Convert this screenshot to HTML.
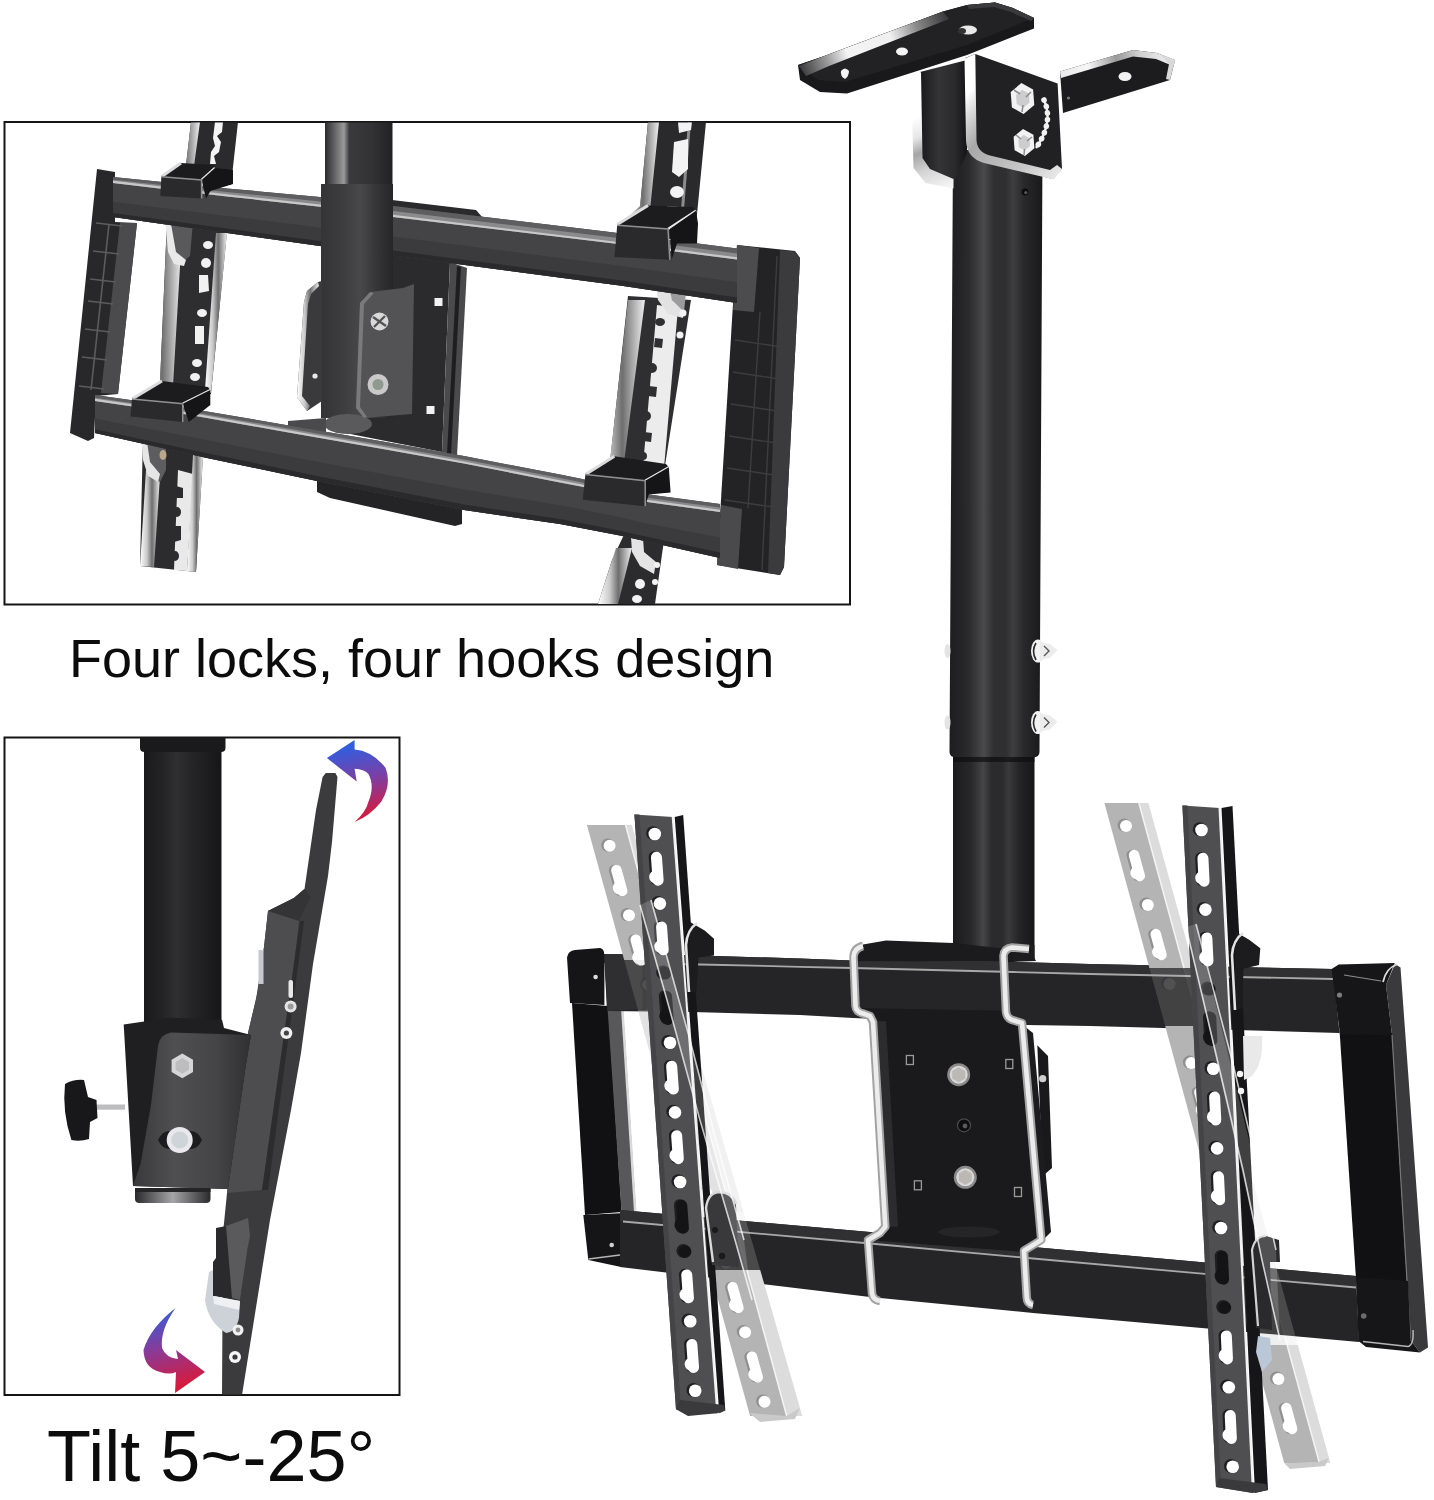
<!DOCTYPE html>
<html lang="en">
<head>
<meta charset="utf-8">
<title>TV ceiling mount</title>
<style>
html,body{margin:0;padding:0;background:#fff;}
body{width:1434px;height:1500px;overflow:hidden;position:relative;font-family:"Liberation Sans",sans-serif;}
svg{position:absolute;left:0;top:0;display:block;}
.t{font-family:"Liberation Sans",sans-serif;fill:#0c0c0c;}
</style>
</head>
<body>
<svg width="1434" height="1500" viewBox="0 0 1434 1500">
<defs>
<linearGradient id="pole" x1="0" x2="1" y1="0" y2="0">
<stop offset="0" stop-color="#232325"/><stop offset="0.28" stop-color="#2c2c2e"/><stop offset="0.42" stop-color="#414143"/><stop offset="0.52" stop-color="#2b2b2d"/><stop offset="0.68" stop-color="#37373a"/><stop offset="0.8" stop-color="#262628"/><stop offset="1" stop-color="#1b1b1d"/>
</linearGradient>
<linearGradient id="pole2" x1="0" x2="1" y1="0" y2="0">
<stop offset="0" stop-color="#1d1d1f"/><stop offset="0.3" stop-color="#262628"/><stop offset="0.45" stop-color="#3a3a3c"/><stop offset="0.55" stop-color="#262628"/><stop offset="0.7" stop-color="#333336"/><stop offset="1" stop-color="#161618"/>
</linearGradient>
<linearGradient id="silverV" x1="0" x2="0" y1="0" y2="1">
<stop offset="0" stop-color="#f4f4f4"/><stop offset="0.5" stop-color="#9a9a9a"/><stop offset="1" stop-color="#e8e8e8"/>
</linearGradient>
<linearGradient id="arrA" x1="0" x2="0" y1="0" y2="1">
<stop offset="0" stop-color="#3457d8"/><stop offset="0.5" stop-color="#7a3a9a"/><stop offset="1" stop-color="#e0183c"/>
</linearGradient>
</defs>

<!-- ============ PANEL 1 : four locks four hooks ============ -->
<g id="panel1">
<defs>
<clipPath id="c1"><rect x="5" y="122.5" width="844.5" height="481.5"/></clipPath>
<linearGradient id="p1barT" gradientUnits="userSpaceOnUse" x1="400" y1="210" x2="394" y2="258">
<stop offset="0" stop-color="#868688"/><stop offset="0.12" stop-color="#737375"/><stop offset="0.15" stop-color="#48484a"/><stop offset="0.5" stop-color="#424244"/><stop offset="0.62" stop-color="#38383a"/><stop offset="0.93" stop-color="#323234"/><stop offset="1" stop-color="#252527"/>
</linearGradient>
<linearGradient id="p1barB" gradientUnits="userSpaceOnUse" x1="400" y1="442" x2="390" y2="497">
<stop offset="0" stop-color="#868688"/><stop offset="0.12" stop-color="#737375"/><stop offset="0.15" stop-color="#48484a"/><stop offset="0.5" stop-color="#424244"/><stop offset="0.62" stop-color="#38383a"/><stop offset="0.93" stop-color="#323234"/><stop offset="1" stop-color="#252527"/>
</linearGradient>
<linearGradient id="p1sil" x1="0" x2="1" y1="0" y2="0">
<stop offset="0" stop-color="#ffffff"/><stop offset="0.35" stop-color="#c9c9c9"/><stop offset="0.6" stop-color="#6e6e6e"/><stop offset="1" stop-color="#efefef"/>
</linearGradient>
<linearGradient id="p1pole" x1="0" x2="1" y1="0" y2="0">
<stop offset="0" stop-color="#343436"/><stop offset="0.3" stop-color="#3d3d3f"/><stop offset="0.55" stop-color="#48484a"/><stop offset="0.8" stop-color="#333335"/><stop offset="1" stop-color="#262628"/>
</linearGradient>
<linearGradient id="p1poleU" x1="0" x2="1" y1="0" y2="0">
<stop offset="0" stop-color="#2a2a2c"/><stop offset="0.12" stop-color="#5a5a5c"/><stop offset="0.28" stop-color="#9a9a9a"/><stop offset="0.36" stop-color="#3a3a3c"/><stop offset="0.7" stop-color="#323234"/><stop offset="1" stop-color="#222224"/>
</linearGradient>
</defs>
<rect x="4.5" y="122" width="845.5" height="482.5" fill="#fff" stroke="#151515" stroke-width="2"/>
<g clip-path="url(#c1)">
<!-- back plate -->
<polygon points="392,200 476,210 483,218 483,226 392,214" fill="#2a2a2c"/>
<polygon points="340,240 450,262 442,452 340,432" fill="#2b2b2d"/>
<polygon points="450,262 467,268 457,456 442,452" fill="#4a4a4c"/>
<polygon points="457,266 461,267 451,455 447,454" fill="#1e1e20"/>
<rect x="434.5" y="298" width="8" height="8" fill="#f2f2f2"/>
<rect x="426.5" y="406" width="8" height="8" fill="#f2f2f2"/>
<!-- rear block under bottom bar -->
<polygon points="317,478 462,508 462,524 455,526 330,498 317,492" fill="#242426"/>

<!-- LEFT RAIL upper -->
<polygon points="191,122 238,122 231,185 163,178 186,166" fill="#2b2b2d"/>
<polygon points="191,122 200,122 194,166 172,178 163,176 186,164" fill="url(#p1sil)"/>
<path d="M215,122 l8,0 l-1,10 l-5,4 l4,6 l-2,10 l-5,4 l2,8 l-6,0 l1,-12 l4,-6 l-2,-8 z" fill="#f4f4f4"/>
<!-- LEFT RAIL middle -->
<polygon points="167,220 227,232 211,394 133,400 160,383" fill="#2e2e30"/>
<polygon points="167,222 182,232 173,386 140,400 132,399 160,382" fill="url(#p1sil)"/>
<polygon points="216,233 227,233 211,393 205,390" fill="url(#p1sil)"/>
<polygon points="165,218 193,222 190,256 183,262 176,262 172,252" fill="#59595b"/>
<polygon points="165,218 170,218 176,252 186,260 184,266 174,264 168,252" fill="#e9e9e9"/>
<g fill="#f1f1f1">
<ellipse cx="208" cy="245" rx="5" ry="4"/><ellipse cx="206" cy="263" rx="5" ry="5"/><path d="M199,275 l9,0 l1,16 l-10,2 z"/>
<ellipse cx="202" cy="313" rx="5" ry="4"/><path d="M195,326 l9,0 l0,18 l-9,0 z"/><ellipse cx="197" cy="363" rx="5" ry="4"/><ellipse cx="195" cy="377" rx="5" ry="4"/>
</g>
<!-- LEFT RAIL lower -->
<polygon points="143,436 203,456 196,572 140,566" fill="#2c2c2e"/>
<polygon points="146,470 160,476 154,567 140,566" fill="url(#p1sil)"/>
<polygon points="178,470 193,474 187,571 174,570" fill="#e9e9e9"/>
<polygon points="193,455 203,456 196,572 187,571" fill="url(#p1sil)"/>
<polygon points="141,434 166,440 166,470 160,482 150,478 144,462" fill="#5d5d60"/>
<polygon points="141,434 146,435 150,462 160,474 158,482 148,476 143,460" fill="#e6e6e6"/>
<g fill="#f1f1f1">
<ellipse cx="163" cy="455" rx="3.5" ry="5" fill="#b9a98a"/>
</g><g fill="#2c2c2e"><path d="M176,486 l7,2 l0,10 l-7,0 z"/><ellipse cx="177" cy="512" rx="4" ry="5"/><path d="M174,526 l7,0 l0,14 l-7,2 z"/><ellipse cx="175" cy="556" rx="4" ry="5"/>
</g>

<!-- RIGHT RAIL upper -->
<polygon points="648,122 706,122 694,245 618,226 640,208" fill="#2a2a2c"/>
<polygon points="648,122 659,122 650,210 628,228 618,226 640,206" fill="url(#p1sil)"/>
<polygon points="688,122 691,122 683,222 680,222" fill="#8c8c8e"/>
<g fill="#f3f3f3">
<path d="M678,122 l14,0 l-1,8 l-12,3 z"/><path d="M674,142 l14,-3 l0,30 l-9,8 l-7,-5 z"/><ellipse cx="677" cy="192" rx="7" ry="6"/><path d="M667,206 l13,1 l-1,14 l-13,-1 z"/>
</g>
<!-- RIGHT RAIL middle -->
<polygon points="628,296 691,300 664,472 588,474 610,462" fill="#2f2f31"/>
<polygon points="628,300 645,300 624,462 596,476 588,474 610,460" fill="url(#p1sil)"/>
<polygon points="657,305 678,308 664,468 643,466" fill="#ececec"/>
<g fill="#2f2f31"><ellipse cx="660" cy="322" rx="5" ry="4"/><path d="M655,338 l8,1 l-1,9 l-8,-1 z"/><ellipse cx="652" cy="368" rx="5" ry="5"/><path d="M649,386 l8,1 l-1,10 l-8,-1 z"/><ellipse cx="646" cy="416" rx="5" ry="5"/><path d="M644,432 l8,1 l-1,9 l-8,-1 z"/><ellipse cx="643" cy="456" rx="4" ry="4"/></g>
<polygon points="655,282 668,282 672,300 684,306 683,318 668,314 658,300" fill="#e2e2e2"/>
<polygon points="668,284 686,292 684,312 672,300" fill="#9b9b9d"/>
<g fill="#f3f3f3">
<circle cx="683" cy="313" r="3.5"/><circle cx="680" cy="335" r="3.5"/>

</g>
<!-- RIGHT RAIL lower -->
<polygon points="631,520 664,540 655,604 598,604 612,560" fill="#2c2c2e"/>
<polygon points="616,548 632,548 618,604 598,604" fill="url(#p1sil)"/>
<polygon points="630,522 642,524 644,552 656,562 654,574 640,566 632,552" fill="#e4e4e4"/>
<g fill="#f3f3f3"><circle cx="657" cy="565" r="3"/><circle cx="655" cy="582" r="3"/><ellipse cx="640" cy="584" rx="5" ry="5"/><ellipse cx="637" cy="599" rx="5" ry="4"/></g>

<!-- LEFT SIDE PLATE -->
<polygon points="97,169 115,172 115,222 137,223 118,394 96,396 94,438 88,441 70,433" fill="#28282a"/>
<polygon points="120,223 137,223 118,394 101,393" fill="#4b4b4d"/>
<g stroke="#5c5c5e" stroke-width="1.6" fill="none">
<path d="M96,223 L122,226"/><path d="M93,251 L119,254"/><path d="M90,279 L116,282"/><path d="M88,301 L113,304"/><path d="M85,329 L110,332"/><path d="M82,357 L107,360"/><path d="M79,386 L104,389"/>
<path d="M109,224 L91,390"/>
</g>
<!-- RIGHT SIDE PLATE -->
<polygon points="737,245 795,251 800,258 784,567 780,575 717,565 733,304" fill="#232325"/>
<polygon points="780,250 795,251.5 800,258 784,567 780,575 768,573" fill="#3b3b3d"/>
<polygon points="737,245 759,248 754,312 733,310" fill="#4c4c4e"/>
<polygon points="721,505 742,509 738,569 717,565" fill="#4a4a4c"/>
<g stroke="#3d3d40" stroke-width="1.4" fill="none">
<path d="M735,340 L788,348"/><path d="M733,372 L786,380"/><path d="M731,404 L784,412"/><path d="M729,436 L783,444"/><path d="M727,468 L781,476"/><path d="M725,500 L780,508"/>
<path d="M760,312 L748,508"/><path d="M777,256 L762,570"/>
</g>

<!-- TOP BAR -->
<polygon points="113.0,177.0 212.0,187.0 227.0,188.4 320.0,197.0 393.0,206.0 614.0,232.6 620.0,233.4 737.0,248.5 737.0,303.0 620.0,285.5 614.0,284.7 393.0,255.4 320.0,246.0 227.0,233.0 212.0,230.9 113.0,217.0" fill="#444446"/>
<polygon points="113.0,177.0 212.0,187.0 227.0,188.4 320.0,197.0 393.0,206.0 614.0,232.6 620.0,233.4 737.0,248.5 737.0,259.5 620.0,244.4 614.0,243.6 393.0,217.0 320.0,206.7 227.0,196.4 212.0,194.8 113.0,183.0" fill="#5e5e60"/>
<polygon points="113.0,179.7 212.0,190.5 227.0,192.0 320.0,201.4 393.0,210.9 614.0,237.5 620.0,238.3 737.0,253.4 737.0,259.5 620.0,244.4 614.0,243.6 393.0,217.0 320.0,206.7 227.0,196.4 212.0,194.8 113.0,183.0" fill="#8a8a8c"/>
<polygon points="113.0,180.8 212.0,192.6 227.0,194.2 320.0,204.5 393.0,214.8 614.0,241.4 620.0,242.2 737.0,257.3 737.0,259.5 620.0,244.4 614.0,243.6 393.0,217.0 320.0,206.7 227.0,196.4 212.0,194.8 113.0,183.0" fill="#c8c8c8"/>
<polygon points="113.0,201.8 212.0,214.2 227.0,216.0 320.0,227.4 393.0,236.6 614.0,264.9 620.0,265.7 737.0,282.3 737.0,303.0 620.0,285.5 614.0,284.7 393.0,255.4 320.0,246.0 227.0,233.0 212.0,230.9 113.0,217.0" fill="#3b3b3d"/>
<polygon points="113.0,213.0 212.0,226.5 227.0,228.5 320.0,241.1 393.0,250.5 614.0,279.5 620.0,280.3 737.0,297.6 737.0,303.0 620.0,285.5 614.0,284.7 393.0,255.4 320.0,246.0 227.0,233.0 212.0,230.9 113.0,217.0" fill="#2a2a2c"/>
<!-- POLE -->
<rect x="325" y="122" width="67.5" height="62" fill="url(#p1poleU)"/>
<polygon points="321,184 393,184 393,418 321,418" fill="url(#p1pole)"/>
<ellipse cx="348" cy="424" rx="24" ry="10" fill="#5a5a5c"/>
<polygon points="288,421 326,418 326,436 288,432" fill="#4a4a4c"/>
<!-- left ear -->
<polygon points="307,291 318,282 322,281 322,401 307,411 297,397 304,302" fill="#3a3a3c"/>
<polygon points="307,291 318,282 319,286 311,294 308,304 302,396 310,406 307,411 297,397 304,302" fill="url(#p1sil)"/>
<circle cx="315" cy="376" r="2.6" fill="#e8e8e8"/>
<!-- front bracket -->
<polygon points="360,303 370,292 403,288 414,284 412,414 364,418 356,408" fill="#535355"/>
<polygon points="360,303 370,292 374,293 364,304 360,407 367,417 364,418 356,408" fill="#7a7a7c"/>
<circle cx="379.5" cy="321.5" r="9" fill="#d9d9d9"/><path d="M373,317 l13,9 M385,316 l-11,11" stroke="#555" stroke-width="2.4"/>
<circle cx="378" cy="384.5" r="10.5" fill="#c9c9c9"/><circle cx="378" cy="384.5" r="5.5" fill="#8e9a8e"/>

<!-- BOTTOM BAR -->
<polygon points="95.0,395.0 187.0,408.0 207.0,411.4 280.0,424.0 317.0,430.3 380.0,441.0 464.0,456.0 560.0,474.6 581.0,478.7 620.0,487.7 649.0,494.4 720.0,504.0 720.0,558.0 649.0,542.0 620.0,535.5 581.0,528.0 560.0,524.0 464.0,510.0 380.0,493.4 317.0,481.0 280.0,473.3 207.0,458.0 187.0,453.5 95.0,433.0" fill="#444446"/>
<polygon points="95.0,395.0 187.0,408.0 207.0,411.4 280.0,424.0 317.0,430.3 380.0,441.0 464.0,456.0 560.0,474.6 581.0,478.7 620.0,487.7 649.0,494.4 720.0,504.0 720.0,512.0 649.0,502.3 620.0,495.6 581.0,486.5 560.0,482.4 464.0,463.6 380.0,448.5 317.0,437.5 280.0,431.0 207.0,418.0 187.0,414.5 95.0,401.0" fill="#5e5e60"/>
<polygon points="95.0,397.7 187.0,410.9 207.0,414.4 280.0,427.1 317.0,433.5 380.0,444.4 464.0,459.4 560.0,478.1 581.0,482.2 620.0,491.2 649.0,498.0 720.0,507.6 720.0,512.0 649.0,502.3 620.0,495.6 581.0,486.5 560.0,482.4 464.0,463.6 380.0,448.5 317.0,437.5 280.0,431.0 207.0,418.0 187.0,414.5 95.0,401.0" fill="#8a8a8c"/>
<polygon points="95.0,398.8 187.0,412.3 207.0,415.8 280.0,428.8 317.0,435.3 380.0,446.3 464.0,461.4 560.0,480.2 581.0,484.3 620.0,493.4 649.0,500.1 720.0,509.8 720.0,512.0 649.0,502.3 620.0,495.6 581.0,486.5 560.0,482.4 464.0,463.6 380.0,448.5 317.0,437.5 280.0,431.0 207.0,418.0 187.0,414.5 95.0,401.0" fill="#c8c8c8"/>
<polygon points="95.0,418.6 187.0,436.2 207.0,440.3 280.0,454.5 317.0,461.7 380.0,473.5 464.0,489.5 560.0,505.2 581.0,509.3 620.0,517.3 649.0,523.9 720.0,537.5 720.0,558.0 649.0,542.0 620.0,535.5 581.0,528.0 560.0,524.0 464.0,510.0 380.0,493.4 317.0,481.0 280.0,473.3 207.0,458.0 187.0,453.5 95.0,433.0" fill="#3b3b3d"/>
<polygon points="95.0,429.2 187.0,449.0 207.0,453.3 280.0,468.3 317.0,475.9 380.0,488.2 464.0,504.6 560.0,519.1 581.0,523.1 620.0,530.7 649.0,537.3 720.0,552.6 720.0,558.0 649.0,542.0 620.0,535.5 581.0,528.0 560.0,524.0 464.0,510.0 380.0,493.4 317.0,481.0 280.0,473.3 207.0,458.0 187.0,453.5 95.0,433.0" fill="#2a2a2c"/>

<!-- CLIPS -->
<polygon points="161.4,176.8 181.0,163.0 214.0,165.0 215.0,168.0 201.6,180.0" fill="#1c1c1e"/>
<polyline points="161.4,176.8 181.0,163.0" fill="none" stroke="#dcdcdc" stroke-width="3"/>
<polyline points="201.6,180.0 215.0,168.0" fill="none" stroke="#e8e8e8" stroke-width="2.4"/>
<polygon points="201.6,180.0 215.0,168.0 233.0,170.0 233.0,184.0 210.5,191.0 206.0,198.5" fill="#151517"/>
<polygon points="161.4,176.8 201.6,180.0 201.6,198.5 160.3,196.0" fill="#2a2a2c"/>
<polyline points="161.4,176.8 201.6,180.0 201.6,198.5" fill="none" stroke="#909092" stroke-width="1.5"/>
<polygon points="132.0,399.0 162.0,381.0 208.0,387.0 210.3,390.0 182.7,403.7" fill="#1c1c1e"/>
<polyline points="132.0,399.0 162.0,381.0" fill="none" stroke="#dcdcdc" stroke-width="3"/>
<polyline points="182.7,403.7 210.3,390.0" fill="none" stroke="#e8e8e8" stroke-width="2.4"/>
<polygon points="182.7,403.7 210.3,390.0 210.3,405.0 188.8,422.0" fill="#151517"/>
<polygon points="132.0,399.0 182.7,403.7 182.7,422.0 130.5,416.5" fill="#2a2a2c"/>
<polyline points="132.0,399.0 182.7,403.7 182.7,422.0" fill="none" stroke="#909092" stroke-width="1.5"/>
<polygon points="617.2,225.3 648.0,205.4 693.0,207.0 696.0,210.8 668.0,229.0" fill="#1c1c1e"/>
<polyline points="617.2,224.5 648.0,205.4" fill="none" stroke="#dcdcdc" stroke-width="3"/>
<polyline points="668.0,229.0 696.0,210.8" fill="none" stroke="#e8e8e8" stroke-width="2.4"/>
<polygon points="669.8,229.0 696.0,210.8 698.0,223.5 697.0,243.5 677.0,243.5 671.6,259.8" fill="#151517"/>
<polygon points="617.2,225.3 668.0,229.0 669.8,259.8 614.5,257.0" fill="#2a2a2c"/>
<polyline points="617.2,225.3 668.0,229.0 669.8,259.8" fill="none" stroke="#909092" stroke-width="1.5"/>
<polygon points="585.4,474.5 614.4,456.3 666.0,464.0 668.8,467.2 645.2,480.8" fill="#1c1c1e"/>
<polyline points="585.4,474.5 614.4,456.3" fill="none" stroke="#dcdcdc" stroke-width="3"/>
<polyline points="645.2,480.8 668.8,467.2" fill="none" stroke="#e8e8e8" stroke-width="2.4"/>
<polygon points="645.2,480.8 668.8,467.2 670.6,492.6 648.8,494.4 645.2,506.2" fill="#151517"/>
<polygon points="585.4,474.5 645.2,480.8 645.2,506.2 582.7,499.8" fill="#2a2a2c"/>
<polyline points="585.4,474.5 645.2,480.8 645.2,506.2" fill="none" stroke="#909092" stroke-width="1.5"/>
</g>

</g>

<!-- ============ PANEL 2 : tilt ============ -->
<g id="panel2">
<defs>
<clipPath id="c2"><rect x="5" y="738" width="394" height="656.5"/></clipPath>
<linearGradient id="p2pole" x1="0" x2="1" y1="0" y2="0">
<stop offset="0" stop-color="#19191b"/><stop offset="0.25" stop-color="#242426"/><stop offset="0.42" stop-color="#2f2f31"/><stop offset="0.6" stop-color="#262628"/><stop offset="1" stop-color="#161618"/>
</linearGradient>
<linearGradient id="p2face" x1="0" x2="1" y1="0" y2="0">
<stop offset="0" stop-color="#39393b"/><stop offset="0.35" stop-color="#4f4f51"/><stop offset="0.7" stop-color="#454547"/><stop offset="1" stop-color="#303032"/>
</linearGradient>
<linearGradient id="p2col" x1="0" x2="1" y1="0" y2="0">
<stop offset="0" stop-color="#2a2a2c"/><stop offset="0.5" stop-color="#a5a5a7"/><stop offset="1" stop-color="#2a2a2c"/>
</linearGradient>
<linearGradient id="arrT" gradientUnits="userSpaceOnUse" x1="350" y1="745" x2="365" y2="822">
<stop offset="0" stop-color="#2f5fe0"/><stop offset="0.45" stop-color="#7a3fa6"/><stop offset="1" stop-color="#e3152f"/>
</linearGradient>
<linearGradient id="arrB" gradientUnits="userSpaceOnUse" x1="160" y1="1308" x2="185" y2="1392">
<stop offset="0" stop-color="#2f5fe0"/><stop offset="0.45" stop-color="#8a3a96"/><stop offset="1" stop-color="#e3152f"/>
</linearGradient>
</defs>
<rect x="4.5" y="737.5" width="395" height="657.5" fill="#fff" stroke="#151515" stroke-width="2"/>
<g clip-path="url(#c2)">
<!-- pole -->
<rect x="144" y="738" width="77.5" height="290" fill="url(#p2pole)"/>
<path d="M140,738 H225.5 V748 Q225.5,752 221,752 H144.5 Q140,752 140,748 Z" fill="#1a1a1c"/>
<!-- arm main plate -->
<polygon points="322.6,777 325.8,773 335.4,773 337.5,777 332,842 328,876 313,964 301,1053 291,1110 270,1220 242,1395 222,1395 223,1233 227,1193 248,1033 256,1000 264,947 268,911 294,898 304.5,889 316,810" fill="#3b3b3d"/>
<!-- left box section of arm -->
<polygon points="268,911 294,898 304.5,889 311,897 299,921 290,1000 262,1190 227,1193 248,1033 258,990 264,947" fill="#4d4d4f"/>
<polygon points="268,911 294,898 304.5,889 311,897 299,921" fill="#343436"/>
<polygon points="300,921 304,921 268,1190 262,1190" fill="#2c2c2e"/>
<rect x="258.5" y="950" width="5" height="34" fill="#c5c9cf"/>
<rect x="288.5" y="980" width="4.5" height="18" rx="2" fill="#e8e8e8"/>
<circle cx="290.6" cy="1006.5" r="6" fill="#e4e4e4"/><circle cx="290.6" cy="1006.5" r="3" fill="#9a9a9a"/>
<circle cx="286.4" cy="1033" r="6" fill="#f0f0f0"/><circle cx="286.4" cy="1033" r="2.6" fill="#444"/>
<!-- bracket dark back -->
<polygon points="123.7,1024.4 169.7,1017.7 222,1019.7 224,1028 251,1035 246,1064 228,1189 133,1186" fill="#1f1f21"/>
<!-- bracket grey face -->
<path d="M158,1046 Q160,1034 171,1032.5 L251,1035 L246,1064 L228,1189 L133,1186 L140.5,1164 L151,1105 Z" fill="url(#p2face)"/>
<!-- collar bottom -->
<path d="M135,1189 H210.5 V1199 Q210.5,1203 206,1203 H139.5 Q135,1203 135,1199 Z" fill="url(#p2col)"/>
<rect x="135" y="1188" width="75.5" height="4" fill="#252527"/>
<!-- hex bolt -->
<polygon points="182.3,1053.5 193,1059.7 193,1072 182.3,1078.2 171.6,1072 171.6,1059.7" fill="#d6d6d8"/>
<polygon points="182.3,1058 189,1062 189,1069.8 182.3,1073.8 175.6,1069.8 175.6,1062" fill="#bdbdc0"/>
<!-- round bolt -->
<path d="M158,1140 q4,-9 12,-9 h20 q8,0 12,9 q-4,9 -12,9 h-20 q-8,0 -12,-9 z" fill="#1c1c1e"/>
<circle cx="179.7" cy="1140" r="13" fill="#e9e9eb"/><circle cx="179.7" cy="1140" r="8.5" fill="#cfd4d8"/>
<!-- knob -->
<rect x="96" y="1104.5" width="29" height="5.2" fill="#bdbdbf"/>
<path d="M65,1084 Q74,1079 84,1080 L88,1097 L96.5,1100 L97.5,1118 L90,1122 L89,1139 Q80,1142 71.4,1140 Q62,1112 65,1084 Z" fill="#18181a"/>
<!-- lower hook on arm -->
<polygon points="216,1228 226,1226 248,1230 248,1246 240,1300 213,1296 213,1262 216,1258" fill="#2a2a2c"/>
<polygon points="226,1226 248,1218 250,1236 248,1246 240,1300 232,1298" fill="#5a5a5c"/>
<path d="M209,1272 L213,1270 L213,1296 L240,1301 L239,1318 Q236,1332 226,1333 Q208,1322 205,1300 Z" fill="#ccd2d8"/>
<path d="M213,1296 L240,1301 L239,1310 L214,1304 Z" fill="#eef0f2"/>
<circle cx="238" cy="1330" r="5.5" fill="#f2f2f2"/><circle cx="238" cy="1330" r="2.4" fill="#8d8d8d"/>
<circle cx="235" cy="1357" r="6" fill="#f6f6f6"/><circle cx="235" cy="1357" r="2.6" fill="#3a3a3a"/>
<!-- arrows -->
<path d="M326.9,758 L354.6,740 L354.6,749.6 Q372,751 385.5,767.7 Q392,784 381.2,801.8 Q370,816 354.6,822 Q366,812 368.4,801.8 Q375,786 368.4,774 Q364,769 354.6,768.8 L356.7,781.6 Z" fill="url(#arrT)"/>
<path d="M175.5,1308 Q150,1328 143.5,1350 Q144,1368 160,1372 Q170,1375 176,1372 L175,1393 L205,1372 L176,1350 L178,1359 Q166,1358 162,1348 Q160,1330 175.5,1308 Z" fill="url(#arrB)"/>
</g>

</g>

<!-- ============ MAIN PRODUCT ============ -->
<g id="main">
<defs>
<linearGradient id="mpoleO" gradientUnits="userSpaceOnUse" x1="951" y1="0" x2="1042" y2="0">
<stop offset="0" stop-color="#1e1e20"/><stop offset="0.2" stop-color="#2b2b2d"/><stop offset="0.36" stop-color="#4a4a4c"/><stop offset="0.47" stop-color="#2f2f31"/><stop offset="0.6" stop-color="#2f2f31"/><stop offset="0.68" stop-color="#3e3e40"/><stop offset="0.8" stop-color="#29292b"/><stop offset="1" stop-color="#19191b"/>
</linearGradient>
<linearGradient id="mpoleI" gradientUnits="userSpaceOnUse" x1="953" y1="0" x2="1035" y2="0">
<stop offset="0" stop-color="#1b1b1d"/><stop offset="0.22" stop-color="#28282a"/><stop offset="0.37" stop-color="#454547"/><stop offset="0.47" stop-color="#2b2b2d"/><stop offset="0.6" stop-color="#2b2b2d"/><stop offset="0.68" stop-color="#3a3a3c"/><stop offset="0.8" stop-color="#252527"/><stop offset="1" stop-color="#161618"/>
</linearGradient>
<linearGradient id="msilB" gradientUnits="userSpaceOnUse" x1="962" y1="100" x2="1060" y2="185"><stop offset="0" stop-color="#ffffff"/><stop offset="0.12" stop-color="#d8d8d8"/><stop offset="0.3" stop-color="#a8a8a8"/><stop offset="0.7" stop-color="#c9c9c9"/><stop offset="1" stop-color="#f0f0f0"/></linearGradient>
<linearGradient id="msilU" gradientUnits="userSpaceOnUse" x1="910" y1="120" x2="940" y2="190"><stop offset="0" stop-color="#ffffff"/><stop offset="0.25" stop-color="#e6e6e6"/><stop offset="0.45" stop-color="#a5a5a5"/><stop offset="0.7" stop-color="#d5d5d5"/><stop offset="1" stop-color="#f4f4f4"/></linearGradient>
<linearGradient id="msil" x1="0" x2="1" y1="0" y2="0">
<stop offset="0" stop-color="#fafafa"/><stop offset="0.5" stop-color="#b5b5b5"/><stop offset="1" stop-color="#e6e6e6"/>
</linearGradient>
<linearGradient id="mplateE" gradientUnits="userSpaceOnUse" x1="800" y1="68" x2="945" y2="14">
<stop offset="0" stop-color="#3a3a3c"/><stop offset="0.18" stop-color="#9a9a9a"/><stop offset="0.32" stop-color="#f4f4f4"/><stop offset="0.62" stop-color="#f0f0f0"/><stop offset="0.8" stop-color="#8a8a8a"/><stop offset="1" stop-color="#3a3a3c"/>
</linearGradient>
<linearGradient id="mplate" gradientUnits="userSpaceOnUse" x1="800" y1="70" x2="1030" y2="10">
<stop offset="0" stop-color="#252527"/><stop offset="0.1" stop-color="#1f1f21"/><stop offset="0.16" stop-color="#d8d8d8"/><stop offset="0.24" stop-color="#f2f2f2"/><stop offset="0.3" stop-color="#4a4a4c"/><stop offset="0.36" stop-color="#1e1e20"/><stop offset="1" stop-color="#1a1a1c"/>
</linearGradient>
<linearGradient id="mear" gradientUnits="userSpaceOnUse" x1="1060" y1="75" x2="1175" y2="55">
<stop offset="0" stop-color="#e8e8e8"/><stop offset="0.25" stop-color="#f6f6f6"/><stop offset="0.5" stop-color="#9a9a9a"/><stop offset="0.7" stop-color="#cfcfcf"/><stop offset="1" stop-color="#f4f4f4"/>
</linearGradient>
<linearGradient id="mU" gradientUnits="userSpaceOnUse" x1="920" y1="0" x2="967" y2="0">
<stop offset="0" stop-color="#19191b"/><stop offset="0.4" stop-color="#343436"/><stop offset="0.75" stop-color="#2a2a2c"/><stop offset="1" stop-color="#141416"/>
</linearGradient>
</defs>
<!-- ceiling plate -->
<polygon points="798,65 823,56.5 943,11.5 967,5 995,2.5 1013,8 1034,18 1034,28.5 967,55 847,93.5 820,92 800,80" fill="#19191b"/>
<polygon points="798,65 823,56.5 943,11.5 967,5 995,2.5 1013,8 1034,18 967,45 845,82 818,80" fill="#222224"/>
<polygon points="799,66 823,56.5 943,11.5 949,19 829,66 806,76" fill="url(#mplateE)"/>
<polygon points="967,5 995,2.5 1013,8 1034,18 1031,21 1011,12 994,7 969,9" fill="#3a3a3c"/>
<path d="M841,71 q4,-5 8,0 q0,5 -4,8 q-5,-3 -4,-8z" fill="#f4f4f4"/>
<ellipse cx="902" cy="51.5" rx="6" ry="4" fill="#f4f4f4"/>
<ellipse cx="968" cy="30" rx="9" ry="4.5" fill="#e9e9e9"/><ellipse cx="962" cy="31" rx="4" ry="3" fill="#333"/>
<!-- pole outer -->
<path d="M953,150 L1042.5,150 L1039.5,752 Q1039.5,757 1033,757.5 L956,757.5 Q949.5,757 949.5,752 Z" fill="url(#mpoleO)"/>
<circle cx="1025" cy="192" r="3.4" fill="#0c0c0c"/><circle cx="1025.8" cy="192.6" r="1.6" fill="#555"/>
<!-- U bracket left -->
<polygon points="920,72 967,60 967,153 953.5,183 928,173 920,160" fill="url(#mU)"/>
<path d="M911,76 L921,72 L922.5,158 L930,169 L953.5,179 L953.5,188.5 L925.5,183 L913.5,168 Z" fill="url(#msilU)"/>
<!-- ear plate -->
<polygon points="1060,71.5 1133,50 1157,53 1175,60 1170,80 1063,113" fill="#1c1c1e"/>
<polygon points="1060,71.5 1133,50 1157,53 1175,60 1173,66 1156,59 1133,56.5 1061,78" fill="url(#mear)"/>
<polygon points="1160,54 1175,60 1170,80 1166,79 1169,64" fill="#d9d9d9"/>
<ellipse cx="1125" cy="76.5" rx="6.5" ry="4.5" fill="#f2f2f2"/>
<circle cx="1068.5" cy="98" r="1.6" fill="#777"/>
<!-- front bracket face -->
<path d="M965,58 L975.3,54 L1057.6,83.5 L1062,168.5 L1053,179 L985,162 Q968,158 967,140 Z" fill="#212123"/>
<path d="M964.5,58.5 L975.3,54 L976.5,140 Q977,152 990,155.5 L1050,170 L1057,165 L1062,169 L1054,179.5 L984,163 Q966.5,158 966,140 Z" fill="url(#msilB)"/>
<polygon points="1034.3,105.1 1023.6,113.9 1011.9,107.4 1010.7,91.9 1021.4,83.1 1033.1,89.6" fill="#f2f2f2"/>
<polygon points="1029.6,102.6 1023.5,107.8 1016.7,104.0 1016.0,95.0 1022.1,89.8 1028.9,93.6" fill="#cdcdd0"/>
<path d="M1014,90 l6,4 M1031,92 l-5,5 M1022,112 l1,-7" stroke="#8d8d90" stroke-width="1.6" fill="none"/>
<polygon points="1034.4,148.2 1025.0,155.9 1014.6,150.2 1013.6,136.8 1023.0,129.1 1033.4,134.8" fill="#f2f2f2"/>
<polygon points="1030.1,146.1 1024.8,150.6 1018.9,147.3 1018.3,139.5 1023.6,135.0 1029.5,138.3" fill="#cdcdd0"/>
<path d="M1016,135 l5,4 M1032,137 l-5,4 M1024,155 l0.5,-6" stroke="#8d8d90" stroke-width="1.5" fill="none"/>
<path d="M1044,100 Q1054,122 1036,148" fill="none" stroke="#f1f1f1" stroke-width="5.6" stroke-dasharray="0.1 6.6" stroke-linecap="round"/>
<path d="M1044,100 Q1054,122 1036,148" fill="none" stroke="#f1f1f1" stroke-width="2.4"/>
<!-- pole inner -->
<rect x="953" y="757" width="81.5" height="204" fill="url(#mpoleI)"/>
<rect x="953" y="757" width="81.5" height="5" fill="#0e0e10" opacity="0.7"/>
<!-- pole bolts -->
<ellipse cx="1038" cy="651" rx="7" ry="11.5" fill="#f2f2f2"/>
<path d="M1040,642 L1050,644 L1057.5,650 L1050,658 L1040,660 Z" fill="#ececec"/>
<path d="M1036,643 q-5,8 0,17" fill="none" stroke="#2a2a2c" stroke-width="1.6"/>
<path d="M1044,646 l5,5 l-5,5" fill="none" stroke="#555" stroke-width="1.4"/>
<ellipse cx="947.5" cy="651" rx="3" ry="7" fill="#e4e4e4"/>
<ellipse cx="1038" cy="722.5" rx="7" ry="11.5" fill="#f2f2f2"/>
<path d="M1040,713.5 L1050,715.5 L1057.5,721.5 L1050,729.5 L1040,731.5 Z" fill="#ececec"/>
<path d="M1036,714.5 q-5,8 0,17" fill="none" stroke="#2a2a2c" stroke-width="1.6"/>
<path d="M1044,717.5 l5,5 l-5,5" fill="none" stroke="#555" stroke-width="1.4"/>
<ellipse cx="947.5" cy="722.5" rx="3" ry="7" fill="#e4e4e4"/><defs>
<linearGradient id="gface" x1="0" x2="1" y1="0" y2="0"><stop offset="0" stop-color="#a9a9a9"/><stop offset="1" stop-color="#c4c4c4"/></linearGradient>
</defs>
<!-- left side plate -->
<polygon points="572,1003 608.3,1006 621.7,1212 585,1215" fill="#111113"/>
<polygon points="607.5,1008 623,1008 636,1212 621.5,1212" fill="#58585a"/>
<polygon points="621,1008 623.5,1008 636.5,1212 634,1212" fill="#d9d9d9"/>
<!-- right side plate -->
<polygon points="1339.5,1030 1392,1033 1410.5,1340 1362,1343 1356,1279" fill="#111113"/>
<polygon points="1395,964 1400.5,967.5 1428,1347.5 1420,1352.5 1410.5,1340 1392,1035 1386,985" fill="#3a3a3c"/>
<polyline points="1392,1035 1410.5,1338" fill="none" stroke="#777779" stroke-width="1.2"/>
<!-- top bar -->
<polygon points="604,954 700,955.5 800,958.5 852,960.5 1013,962 1090,964 1333,969 1339.5,1033 1090,1026 1026,1025 853,1018 800,1015 692,1012 607,1011" fill="#252527"/>
<polygon points="604,954 700,955.5 800,958.5 852,960.5 1013,962 1090,964 1333,969 1333,979 1090,974 1013,972 852,968 800,966.8 700,964.5 604,963" fill="#303032"/>
<polyline points="646,963.5 700,964.5 800,966.8 852,968 1013,972 1090,974 1333,979" fill="none" stroke="#a8a8a8" stroke-width="1.8"/>
<!-- bottom bar -->
<polygon points="620,1210 870,1232 1033,1247 1356,1276 1359,1342 1033,1313 870,1297 620,1267" fill="#252527"/>
<polygon points="620,1210 870,1232 1033,1247 1356,1276 1356,1287 1033,1258 870,1243 620,1221" fill="#303032"/>
<polyline points="623,1221.5 870,1243.5 1033,1258.5 1356,1287.5" fill="none" stroke="#a8a8a8" stroke-width="1.8"/>
<!-- caps -->
<path d="M567,957.5 Q568,950.5 575,950 L600,948 Q604.4,948.5 604.4,955.5 L604.4,1005 L570,1003 Z" fill="#151517"/>
<polygon points="604.4,955.5 642.7,953.3 642.7,1009 607.5,1011" fill="#2f2f31"/>
<circle cx="595.6" cy="977" r="2.3" fill="#dcdcdc"/>
<polygon points="583.3,1215 620,1213.3 620,1266.7 588.3,1260" fill="#151517"/>
<polyline points="588.5,1259 620,1255" fill="none" stroke="#b5b5b5" stroke-width="1.5"/>
<circle cx="611.7" cy="1245" r="2.3" fill="#cfcfcf"/>
<path d="M1331.6,969 L1338.7,964.4 L1394.7,963 L1386,985 L1392,1035 L1340,1034.5 Z" fill="#161618"/>
<path d="M1383,982 Q1386,968 1397,964.5" fill="none" stroke="#dedede" stroke-width="1.8"/>
<polyline points="1344,975 1381,981" fill="none" stroke="#8e8e8e" stroke-width="1.2"/>
<circle cx="1339.5" cy="995" r="2.6" fill="#7c7c7c"/>
<polygon points="1356,1277 1408,1281 1410.5,1340 1420,1352.5 1366,1347 1358.5,1341" fill="#161618"/>
<path d="M1363,1341.5 L1408,1346.5 Q1414,1345 1413,1330" fill="none" stroke="#b5b5b5" stroke-width="1.5"/>
<circle cx="1363.7" cy="1316" r="2.8" fill="#6c6c6c"/>
<!-- center block / plate -->
<polygon points="852,956 863,944.5 886,940.5 953,943 1003,948.5 1029,948 1036,961 1013,962 852,961" fill="#1b1b1d"/>
<polygon points="1012,945 1034.5,945 1034.5,960 1013,961" fill="#1d1d1f"/>
<polygon points="853.3,1008 866.7,1014.7 872,1021.3 885.3,1226.7 880,1233 868,1240 1024,1252 1041.3,1240 1021.3,1024 1005.3,1010.7" fill="#1a1a1c"/>
<polygon points="872,1021.3 885.3,1226.7 898,1226.7 886,1021.3" fill="#2c2c2e"/>
<polygon points="1037.3,1045.3 1048,1056 1052,1168 1042.7,1176" fill="#19191b"/>
<circle cx="1042.7" cy="1078.7" r="3.6" fill="#cfcfcf"/>
<ellipse cx="969" cy="1232" rx="31" ry="5.5" fill="#252527"/>
<polygon points="1024,1026 1033,1033 1051,1232 1043,1240" fill="#1c1c1e"/>
<path d="M863,946 Q854,948 853.5,957 L855.5,1006 Q856,1012 863,1013.5 L870,1016 L873,1022 L885.3,1226.7 L880,1233 L868,1240 L872,1293.3 Q873,1300 880,1301" fill="none" stroke="#a2a2a2" stroke-width="8.5" stroke-linejoin="round"/>
<path d="M863,946 Q854,948 853.5,957 L855.5,1006 Q856,1012 863,1013.5 L870,1016 L873,1022 L885.3,1226.7 L880,1233 L868,1240 L872,1293.3 Q873,1300 880,1301" fill="none" stroke="#ececec" stroke-width="4.6" stroke-linejoin="round"/>
<path d="M1029,949 L1012,947.5 Q1004,948.5 1003.5,956 L1006,1012 Q1007,1019 1014,1020.5 L1022,1023 L1041.3,1240 L1024,1250.7 L1026.7,1297 Q1027,1304 1033,1305" fill="none" stroke="#a2a2a2" stroke-width="8.5" stroke-linejoin="round"/>
<path d="M1029,949 L1012,947.5 Q1004,948.5 1003.5,956 L1006,1012 Q1007,1019 1014,1020.5 L1022,1023 L1041.3,1240 L1024,1250.7 L1026.7,1297 Q1027,1304 1033,1305" fill="none" stroke="#ececec" stroke-width="4.6" stroke-linejoin="round"/>
<circle cx="958.7" cy="1074.7" r="11.5" fill="#8a8a8a"/><circle cx="958.7" cy="1074.7" r="9" fill="#d8d8d8"/>
<polygon points="965.2,1078.5 958.7,1082.2 952.2,1078.5 952.2,1071.0 958.7,1067.2 965.2,1071.0" fill="#bcb8b4"/>
<circle cx="965.3" cy="1177.3" r="11.5" fill="#8a8a8a"/><circle cx="965.3" cy="1177.3" r="9" fill="#d8d8d8"/>
<polygon points="971.8,1181.0 965.3,1184.8 958.8,1181.0 958.8,1173.5 965.3,1169.8 971.8,1173.5" fill="#bcb8b4"/>
<circle cx="964" cy="1125.3" r="6.5" fill="#0d0d0f"/><circle cx="964" cy="1125.3" r="6.5" fill="none" stroke="#4a4a4c" stroke-width="1.2"/><circle cx="965" cy="1126" r="2.4" fill="#5a5a5c"/>
<rect x="906.4" y="1055.5" width="7" height="9" fill="none" stroke="#9a9a9a" stroke-width="1.3"/>
<rect x="1005.8" y="1059.5" width="7" height="9" fill="none" stroke="#9a9a9a" stroke-width="1.3"/>
<rect x="914.4" y="1180.8" width="7" height="9" fill="none" stroke="#9a9a9a" stroke-width="1.3"/>
<rect x="1014.5" y="1187.5" width="7" height="9" fill="none" stroke="#9a9a9a" stroke-width="1.3"/><!-- ghost rails -->
<g opacity="1">
<polygon points="586.9,825.0 625.6,825.0 662.4,960.0 624.2,960.0" fill="#b4b4b4"/>
<polygon points="625.6,825.0 631.8,825.0 670.8,960.0 662.4,960.0" fill="#dcdcdc"/>
<polyline points="625.6,825.0 662.4,960.0" fill="none" stroke="#f4f4f4" stroke-width="1.5"/>
<circle cx="607.8" cy="845.0" r="6.6" fill="#8f8f8f"/>
<circle cx="609.6" cy="845.8" r="6" fill="#ffffff"/>
<g transform="translate(619.3,880.5) rotate(-15.6)"><rect x="-7.45" y="-16.8" width="10.5" height="32" rx="5.25" fill="#8f8f8f"/><rect x="-5.25" y="-16.0" width="10.5" height="32" rx="5.25" fill="#ffffff"/><circle cx="-2" cy="7.0" r="6.45" fill="#ffffff"/></g>
<circle cx="627.2" cy="914.5" r="6.6" fill="#8f8f8f"/>
<circle cx="629.0" cy="915.3" r="6" fill="#ffffff"/>
<g transform="translate(638.6,950.0) rotate(-15.6)"><rect x="-7.45" y="-16.8" width="10.5" height="32" rx="5.25" fill="#8f8f8f"/><rect x="-5.25" y="-16.0" width="10.5" height="32" rx="5.25" fill="#ffffff"/><circle cx="-2" cy="7.0" r="6.45" fill="#ffffff"/></g>
</g>
<g opacity="0.2">
<polygon points="624.2,960.0 662.4,960.0 676.0,1010.0 638.0,1010.0" fill="#b4b4b4"/>
<polygon points="662.4,960.0 670.8,960.0 685.2,1010.0 676.0,1010.0" fill="#dcdcdc"/>
<polyline points="662.4,960.0 676.0,1010.0" fill="none" stroke="#f4f4f4" stroke-width="1.5"/>
<circle cx="646.5" cy="984.0" r="6.6" fill="#8f8f8f"/>
<circle cx="648.3" cy="984.8" r="6" fill="#ffffff"/>
</g>
<g opacity="0.38">
<polygon points="638.0,1010.0 676.0,1010.0 731.1,1212.0 693.8,1212.0" fill="#b4b4b4"/>
<polygon points="676.0,1010.0 685.2,1010.0 743.5,1212.0 731.1,1212.0" fill="#dcdcdc"/>
<polyline points="676.0,1010.0 731.1,1212.0" fill="none" stroke="#f4f4f4" stroke-width="1.5"/>
<g transform="translate(658.0,1019.5) rotate(-15.6)"><rect x="-7.45" y="-16.8" width="10.5" height="32" rx="5.25" fill="#8f8f8f"/><rect x="-5.25" y="-16.0" width="10.5" height="32" rx="5.25" fill="#ffffff"/><circle cx="-2" cy="7.0" r="6.45" fill="#ffffff"/></g>
<circle cx="665.9" cy="1053.5" r="6.6" fill="#8f8f8f"/>
<circle cx="667.7" cy="1054.3" r="6" fill="#ffffff"/>
<g transform="translate(677.4,1089.0) rotate(-15.6)"><rect x="-7.45" y="-16.8" width="10.5" height="32" rx="5.25" fill="#8f8f8f"/><rect x="-5.25" y="-16.0" width="10.5" height="32" rx="5.25" fill="#ffffff"/><circle cx="-2" cy="7.0" r="6.45" fill="#ffffff"/></g>
<circle cx="685.3" cy="1123.0" r="6.6" fill="#8f8f8f"/>
<circle cx="687.1" cy="1123.8" r="6" fill="#ffffff"/>
<g transform="translate(696.7,1158.5) rotate(-15.6)"><rect x="-7.45" y="-16.8" width="10.5" height="32" rx="5.25" fill="#8f8f8f"/><rect x="-5.25" y="-16.0" width="10.5" height="32" rx="5.25" fill="#ffffff"/><circle cx="-2" cy="7.0" r="6.45" fill="#ffffff"/></g>
<circle cx="704.6" cy="1192.5" r="6.6" fill="#8f8f8f"/>
<circle cx="706.4" cy="1193.3" r="6" fill="#ffffff"/>
</g>
<g opacity="0.2">
<polygon points="693.8,1212.0 731.1,1212.0 746.9,1270.0 709.8,1270.0" fill="#b4b4b4"/>
<polygon points="731.1,1212.0 743.5,1212.0 760.2,1270.0 746.9,1270.0" fill="#dcdcdc"/>
<polyline points="731.1,1212.0 746.9,1270.0" fill="none" stroke="#f4f4f4" stroke-width="1.5"/>
<g transform="translate(716.1,1228.0) rotate(-15.6)"><rect x="-7.45" y="-16.8" width="10.5" height="32" rx="5.25" fill="#8f8f8f"/><rect x="-5.25" y="-16.0" width="10.5" height="32" rx="5.25" fill="#ffffff"/><circle cx="-2" cy="7.0" r="6.45" fill="#ffffff"/></g>
<circle cx="724.0" cy="1262.0" r="6.6" fill="#8f8f8f"/>
<circle cx="725.8" cy="1262.8" r="6" fill="#ffffff"/>
</g>
<g opacity="1">
<polygon points="709.8,1270.0 746.9,1270.0 786.7,1416.0 750.1,1416.0" fill="#b4b4b4"/>
<polygon points="746.9,1270.0 760.2,1270.0 802.3,1416.0 786.7,1416.0" fill="#dcdcdc"/>
<polyline points="746.9,1270.0 786.7,1416.0" fill="none" stroke="#f4f4f4" stroke-width="1.5"/>
<g transform="translate(735.5,1297.5) rotate(-15.6)"><rect x="-7.45" y="-16.8" width="10.5" height="32" rx="5.25" fill="#8f8f8f"/><rect x="-5.25" y="-16.0" width="10.5" height="32" rx="5.25" fill="#ffffff"/><circle cx="-2" cy="7.0" r="6.45" fill="#ffffff"/></g>
<circle cx="743.3" cy="1331.5" r="6.6" fill="#8f8f8f"/>
<circle cx="745.1" cy="1332.3" r="6" fill="#ffffff"/>
<g transform="translate(754.8,1367.0) rotate(-15.6)"><rect x="-7.45" y="-16.8" width="10.5" height="32" rx="5.25" fill="#8f8f8f"/><rect x="-5.25" y="-16.0" width="10.5" height="32" rx="5.25" fill="#ffffff"/><circle cx="-2" cy="7.0" r="6.45" fill="#ffffff"/></g>
<circle cx="762.7" cy="1401.0" r="6.6" fill="#8f8f8f"/>
<circle cx="764.5" cy="1401.8" r="6" fill="#ffffff"/>
</g>
<g opacity="1">
<polygon points="1104.4,803.0 1138.9,803.0 1184.0,968.0 1149.4,968.0" fill="#b4b4b4"/>
<polygon points="1138.9,803.0 1148.4,803.0 1193.9,968.0 1184.0,968.0" fill="#dcdcdc"/>
<polyline points="1138.9,803.0 1184.0,968.0" fill="none" stroke="#f4f4f4" stroke-width="1.5"/>
<circle cx="1124.2" cy="825.2" r="6.6" fill="#8f8f8f"/>
<circle cx="1126.0" cy="826.0" r="6" fill="#ffffff"/>
<g transform="translate(1136.9,865.5) rotate(-15.4)"><rect x="-7.45" y="-16.8" width="10.5" height="32" rx="5.25" fill="#8f8f8f"/><rect x="-5.25" y="-16.0" width="10.5" height="32" rx="5.25" fill="#ffffff"/><circle cx="-2" cy="7.0" r="6.45" fill="#ffffff"/></g>
<circle cx="1146.0" cy="904.2" r="6.6" fill="#8f8f8f"/>
<circle cx="1147.8" cy="905.0" r="6" fill="#ffffff"/>
<g transform="translate(1158.6,944.5) rotate(-15.4)"><rect x="-7.45" y="-16.8" width="10.5" height="32" rx="5.25" fill="#8f8f8f"/><rect x="-5.25" y="-16.0" width="10.5" height="32" rx="5.25" fill="#ffffff"/><circle cx="-2" cy="7.0" r="6.45" fill="#ffffff"/></g>
</g>
<g opacity="0.2">
<polygon points="1149.4,968.0 1184.0,968.0 1199.9,1026.0 1165.2,1026.0" fill="#b4b4b4"/>
<polygon points="1184.0,968.0 1193.9,968.0 1209.9,1026.0 1199.9,1026.0" fill="#dcdcdc"/>
<polyline points="1184.0,968.0 1199.9,1026.0" fill="none" stroke="#f4f4f4" stroke-width="1.5"/>
<circle cx="1167.7" cy="983.2" r="6.6" fill="#8f8f8f"/>
<circle cx="1169.5" cy="984.0" r="6" fill="#ffffff"/>
</g>
<g opacity="1">
<polygon points="1165.2,1026.0 1199.9,1026.0 1233.8,1150.0 1198.9,1150.0" fill="#b4b4b4"/>
<polygon points="1199.9,1026.0 1209.9,1026.0 1244.1,1150.0 1233.8,1150.0" fill="#dcdcdc"/>
<polyline points="1199.9,1026.0 1233.8,1150.0" fill="none" stroke="#f4f4f4" stroke-width="1.5"/>
<circle cx="1189.5" cy="1062.2" r="6.6" fill="#8f8f8f"/>
<circle cx="1191.3" cy="1063.0" r="6" fill="#ffffff"/>
<g transform="translate(1202.2,1102.5) rotate(-15.4)"><rect x="-7.45" y="-16.8" width="10.5" height="32" rx="5.25" fill="#8f8f8f"/><rect x="-5.25" y="-16.0" width="10.5" height="32" rx="5.25" fill="#ffffff"/><circle cx="-2" cy="7.0" r="6.45" fill="#ffffff"/></g>
<circle cx="1211.3" cy="1141.2" r="6.6" fill="#8f8f8f"/>
<circle cx="1213.1" cy="1142.0" r="6" fill="#ffffff"/>
</g>
<g opacity="0.3">
<polygon points="1198.9,1150.0 1233.8,1150.0 1264.4,1262.0 1229.5,1262.0" fill="#b4b4b4"/>
<polygon points="1233.8,1150.0 1244.1,1150.0 1275.0,1262.0 1264.4,1262.0" fill="#dcdcdc"/>
<polyline points="1233.8,1150.0 1264.4,1262.0" fill="none" stroke="#f4f4f4" stroke-width="1.5"/>
<g transform="translate(1223.9,1181.5) rotate(-15.4)"><rect x="-7.45" y="-16.8" width="10.5" height="32" rx="5.25" fill="#8f8f8f"/><rect x="-5.25" y="-16.0" width="10.5" height="32" rx="5.25" fill="#ffffff"/><circle cx="-2" cy="7.0" r="6.45" fill="#ffffff"/></g>
<circle cx="1233.0" cy="1220.2" r="6.6" fill="#8f8f8f"/>
<circle cx="1234.8" cy="1221.0" r="6" fill="#ffffff"/>
</g>
<g opacity="0.2">
<polygon points="1229.5,1262.0 1264.4,1262.0 1287.1,1345.0 1252.1,1345.0" fill="#b4b4b4"/>
<polygon points="1264.4,1262.0 1275.0,1262.0 1297.8,1345.0 1287.1,1345.0" fill="#dcdcdc"/>
<polyline points="1264.4,1262.0 1287.1,1345.0" fill="none" stroke="#f4f4f4" stroke-width="1.5"/>
<circle cx="1254.8" cy="1299.2" r="6.6" fill="#8f8f8f"/>
<circle cx="1256.6" cy="1300.0" r="6" fill="#ffffff"/>
</g>
<g opacity="1">
<polygon points="1252.1,1345.0 1287.1,1345.0 1319.4,1463.0 1284.2,1463.0" fill="#b4b4b4"/>
<polygon points="1287.1,1345.0 1297.8,1345.0 1330.4,1463.0 1319.4,1463.0" fill="#dcdcdc"/>
<polyline points="1287.1,1345.0 1319.4,1463.0" fill="none" stroke="#f4f4f4" stroke-width="1.5"/>
<circle cx="1276.6" cy="1378.2" r="6.6" fill="#8f8f8f"/>
<circle cx="1278.4" cy="1379.0" r="6" fill="#ffffff"/>
<g transform="translate(1289.2,1418.5) rotate(-15.4)"><rect x="-7.45" y="-16.8" width="10.5" height="32" rx="5.25" fill="#8f8f8f"/><rect x="-5.25" y="-16.0" width="10.5" height="32" rx="5.25" fill="#ffffff"/><circle cx="-2" cy="7.0" r="6.45" fill="#ffffff"/></g>
</g>
<polygon points="749.3,1413 786.7,1416 800,1408 795,1419 760,1422" fill="#c9c9c9"/>
<polygon points="1284.3,1463.3 1319,1461.7 1329,1458 1325,1466 1290,1469" fill="#c9c9c9"/>
<!-- dark rails -->
<polygon points="634.4,814.4 672.7,817.0 717.3,1413.3 676.0,1409.3" fill="#4f4f51"/>
<polygon points="634.4,814.4 639.4,814.4 681.0,1409.3 676.0,1409.3" fill="#444446"/>
<polygon points="674.7,817.0 683.2,815.0 725.3,1410.3 719.3,1413.3" fill="#161618"/>
<polyline points="672.7,817.0 717.3,1413.3" fill="none" stroke="#f2f2f2" stroke-width="2"/>
<circle cx="653.0" cy="833.2" r="6.8999999999999995" fill="#1f1f21"/>
<circle cx="654.8" cy="834.0" r="6.3" fill="#ffffff"/>
<g transform="translate(657.3,868.8) rotate(-4.2)"><rect x="-7.7" y="-17.8" width="11" height="34" rx="5.5" fill="#1f1f21"/><rect x="-5.5" y="-17.0" width="11" height="34" rx="5.5" fill="#ffffff"/><circle cx="-2" cy="8.0" r="6.7" fill="#ffffff"/></g>
<circle cx="658.1" cy="902.8" r="6.8999999999999995" fill="#1f1f21"/>
<circle cx="659.9" cy="903.6" r="6.3" fill="#ffffff"/>
<g transform="translate(662.4,938.4) rotate(-4.2)"><rect x="-7.7" y="-17.8" width="11" height="34" rx="5.5" fill="#1f1f21"/><rect x="-5.5" y="-17.0" width="11" height="34" rx="5.5" fill="#ffffff"/><circle cx="-2" cy="8.0" r="6.7" fill="#ffffff"/></g>
<circle cx="663.1" cy="972.4" r="6.8999999999999995" fill="#1f1f21"/>
<circle cx="664.9" cy="973.2" r="6.3" fill="#141416"/>
<g transform="translate(667.4,1008.0) rotate(-4.2)"><rect x="-7.7" y="-17.8" width="11" height="34" rx="5.5" fill="#1f1f21"/><rect x="-5.5" y="-17.0" width="11" height="34" rx="5.5" fill="#141416"/><circle cx="-2" cy="8.0" r="6.7" fill="#141416"/></g>
<circle cx="668.2" cy="1042.0" r="6.8999999999999995" fill="#1f1f21"/>
<circle cx="670.0" cy="1042.8" r="6.3" fill="#ffffff"/>
<g transform="translate(672.5,1077.6) rotate(-4.2)"><rect x="-7.7" y="-17.8" width="11" height="34" rx="5.5" fill="#1f1f21"/><rect x="-5.5" y="-17.0" width="11" height="34" rx="5.5" fill="#ffffff"/><circle cx="-2" cy="8.0" r="6.7" fill="#ffffff"/></g>
<circle cx="673.2" cy="1111.6" r="6.8999999999999995" fill="#1f1f21"/>
<circle cx="675.0" cy="1112.4" r="6.3" fill="#ffffff"/>
<g transform="translate(677.5,1147.2) rotate(-4.2)"><rect x="-7.7" y="-17.8" width="11" height="34" rx="5.5" fill="#1f1f21"/><rect x="-5.5" y="-17.0" width="11" height="34" rx="5.5" fill="#ffffff"/><circle cx="-2" cy="8.0" r="6.7" fill="#ffffff"/></g>
<circle cx="678.3" cy="1181.2" r="6.8999999999999995" fill="#1f1f21"/>
<circle cx="680.1" cy="1182.0" r="6.3" fill="#ffffff"/>
<g transform="translate(682.6,1216.8) rotate(-4.2)"><rect x="-7.7" y="-17.8" width="11" height="34" rx="5.5" fill="#1f1f21"/><rect x="-5.5" y="-17.0" width="11" height="34" rx="5.5" fill="#141416"/><circle cx="-2" cy="8.0" r="6.7" fill="#141416"/></g>
<circle cx="683.3" cy="1250.8" r="6.8999999999999995" fill="#1f1f21"/>
<circle cx="685.1" cy="1251.6" r="6.3" fill="#141416"/>
<g transform="translate(687.6,1286.4) rotate(-4.2)"><rect x="-7.7" y="-17.8" width="11" height="34" rx="5.5" fill="#1f1f21"/><rect x="-5.5" y="-17.0" width="11" height="34" rx="5.5" fill="#ffffff"/><circle cx="-2" cy="8.0" r="6.7" fill="#ffffff"/></g>
<circle cx="688.4" cy="1320.4" r="6.8999999999999995" fill="#1f1f21"/>
<circle cx="690.2" cy="1321.2" r="6.3" fill="#ffffff"/>
<g transform="translate(692.7,1356.0) rotate(-4.2)"><rect x="-7.7" y="-17.8" width="11" height="34" rx="5.5" fill="#1f1f21"/><rect x="-5.5" y="-17.0" width="11" height="34" rx="5.5" fill="#ffffff"/><circle cx="-2" cy="8.0" r="6.7" fill="#ffffff"/></g>
<circle cx="693.4" cy="1390.0" r="6.8999999999999995" fill="#1f1f21"/>
<circle cx="695.2" cy="1390.8" r="6.3" fill="#ffffff"/>
<polygon points="676,1409.3 688,1416 717.3,1413.3 725.3,1410.5 724,1405 680,1400" fill="#3a3a3c"/>
<polygon points="1182.4,805.6 1219.5,808.0 1253.0,1493.0 1216.0,1487.0" fill="#4f4f51"/>
<polygon points="1182.4,805.6 1187.4,805.6 1221.0,1487.0 1216.0,1487.0" fill="#444446"/>
<polygon points="1221.5,808.0 1232.5,806.0 1268.0,1490.0 1255.0,1493.0" fill="#161618"/>
<polyline points="1219.5,808.0 1253.0,1493.0" fill="none" stroke="#f2f2f2" stroke-width="2"/>
<circle cx="1199.7" cy="829.2" r="6.8999999999999995" fill="#1f1f21"/>
<circle cx="1201.5" cy="830.0" r="6.3" fill="#ffffff"/>
<g transform="translate(1203.5,869.8) rotate(-2.8)"><rect x="-7.7" y="-17.8" width="11" height="34" rx="5.5" fill="#1f1f21"/><rect x="-5.5" y="-17.0" width="11" height="34" rx="5.5" fill="#ffffff"/><circle cx="-2" cy="8.0" r="6.7" fill="#ffffff"/></g>
<circle cx="1203.6" cy="908.8" r="6.8999999999999995" fill="#1f1f21"/>
<circle cx="1205.4" cy="909.6" r="6.3" fill="#ffffff"/>
<g transform="translate(1207.4,949.4) rotate(-2.8)"><rect x="-7.7" y="-17.8" width="11" height="34" rx="5.5" fill="#1f1f21"/><rect x="-5.5" y="-17.0" width="11" height="34" rx="5.5" fill="#ffffff"/><circle cx="-2" cy="8.0" r="6.7" fill="#ffffff"/></g>
<circle cx="1207.5" cy="988.4" r="6.8999999999999995" fill="#1f1f21"/>
<circle cx="1209.3" cy="989.2" r="6.3" fill="#141416"/>
<g transform="translate(1211.3,1029.0) rotate(-2.8)"><rect x="-7.7" y="-17.8" width="11" height="34" rx="5.5" fill="#1f1f21"/><rect x="-5.5" y="-17.0" width="11" height="34" rx="5.5" fill="#141416"/><circle cx="-2" cy="8.0" r="6.7" fill="#141416"/></g>
<circle cx="1211.4" cy="1068.0" r="6.8999999999999995" fill="#1f1f21"/>
<circle cx="1213.2" cy="1068.8" r="6.3" fill="#ffffff"/>
<g transform="translate(1215.2,1108.6) rotate(-2.8)"><rect x="-7.7" y="-17.8" width="11" height="34" rx="5.5" fill="#1f1f21"/><rect x="-5.5" y="-17.0" width="11" height="34" rx="5.5" fill="#ffffff"/><circle cx="-2" cy="8.0" r="6.7" fill="#ffffff"/></g>
<circle cx="1215.3" cy="1147.6" r="6.8999999999999995" fill="#1f1f21"/>
<circle cx="1217.1" cy="1148.4" r="6.3" fill="#ffffff"/>
<g transform="translate(1219.1,1188.2) rotate(-2.8)"><rect x="-7.7" y="-17.8" width="11" height="34" rx="5.5" fill="#1f1f21"/><rect x="-5.5" y="-17.0" width="11" height="34" rx="5.5" fill="#ffffff"/><circle cx="-2" cy="8.0" r="6.7" fill="#ffffff"/></g>
<circle cx="1219.2" cy="1227.2" r="6.8999999999999995" fill="#1f1f21"/>
<circle cx="1221.0" cy="1228.0" r="6.3" fill="#ffffff"/>
<g transform="translate(1223.0,1267.8) rotate(-2.8)"><rect x="-7.7" y="-17.8" width="11" height="34" rx="5.5" fill="#1f1f21"/><rect x="-5.5" y="-17.0" width="11" height="34" rx="5.5" fill="#141416"/><circle cx="-2" cy="8.0" r="6.7" fill="#141416"/></g>
<circle cx="1223.1" cy="1306.8" r="6.8999999999999995" fill="#1f1f21"/>
<circle cx="1224.9" cy="1307.6" r="6.3" fill="#141416"/>
<g transform="translate(1226.9,1347.4) rotate(-2.8)"><rect x="-7.7" y="-17.8" width="11" height="34" rx="5.5" fill="#1f1f21"/><rect x="-5.5" y="-17.0" width="11" height="34" rx="5.5" fill="#ffffff"/><circle cx="-2" cy="8.0" r="6.7" fill="#ffffff"/></g>
<circle cx="1227.0" cy="1386.4" r="6.8999999999999995" fill="#1f1f21"/>
<circle cx="1228.8" cy="1387.2" r="6.3" fill="#ffffff"/>
<g transform="translate(1230.8,1427.0) rotate(-2.8)"><rect x="-7.7" y="-17.8" width="11" height="34" rx="5.5" fill="#1f1f21"/><rect x="-5.5" y="-17.0" width="11" height="34" rx="5.5" fill="#ffffff"/><circle cx="-2" cy="8.0" r="6.7" fill="#ffffff"/></g>
<circle cx="1230.9" cy="1466.0" r="6.8999999999999995" fill="#1f1f21"/>
<circle cx="1232.7" cy="1466.8" r="6.3" fill="#ffffff"/>
<polygon points="1216,1487 1253,1493 1268,1490 1266,1484 1219,1478" fill="#3a3a3c"/>
<!-- hooks -->
<polygon points="690,922 704.7,930.6 714,938.8 714,955.4 698.5,957.4 696.4,992.6 688,992" fill="#1c1c1e"/>
<path d="M697,923 Q687,930 686,945 L689,992" fill="none" stroke="#e4e4e4" stroke-width="2.6"/>
<polygon points="1236,932 1249.5,940 1260.3,948.3 1259,965 1243.5,968.7 1242.3,1008.3 1234,1010" fill="#1c1c1e"/>
<path d="M1243,933 Q1233,940 1232,955 L1235,1010" fill="none" stroke="#e4e4e4" stroke-width="2.6"/>
<path d="M706,1206 Q708,1192 720,1192 Q734,1193 736,1206 L739,1267 L712,1265 Z" fill="#39393b"/>
<path d="M713,1262 L706,1208 Q708,1192 720,1192 Q733,1193 736,1204" fill="none" stroke="#d9d9d9" stroke-width="2.4"/>
<circle cx="715" cy="1230" r="3" fill="#1a1a1c"/><circle cx="722" cy="1256" r="3.2" fill="#1a1a1c"/>
<path d="M1253,1248 Q1256,1236 1266,1236 L1279,1240 L1280,1262 L1270,1262 L1272,1330 L1256,1328 Z" fill="#2a2a2c"/>
<path d="M1258,1326 L1252,1250 Q1255,1236 1266,1236" fill="none" stroke="#d2d2d2" stroke-width="2.2"/>
<path d="M1243,1036 L1262,1036 Q1264,1062 1252,1076 L1244,1080 Z" fill="#e9e9e9"/>
<circle cx="1240" cy="1074" r="3.2" fill="#f4f4f4"/>
<circle cx="1241" cy="1091" r="3.2" fill="#f4f4f4"/>
<polygon points="1258,1336 1270,1338 1272,1360 1262,1372 1256,1352" fill="#b9c7d6"/>
<!-- ghost overlay -->
<g fill="none" stroke="#ffffff" stroke-width="1.6" opacity="0.75">
<polyline points="640,905 667,1000 700,1120 735,1240 752,1300"/>
<polyline points="651,900 690,1040 716,1140 744,1240"/>
<polyline points="1186,927 1215,1050 1243,1170 1262,1260 1280,1340"/>
<polyline points="1196,924 1232,1060 1256,1160 1276,1250"/>
</g>
<polygon points="640,905 651,900 744,1240 752,1300 735,1240" fill="#ffffff" opacity="0.18"/>
<polygon points="1186,927 1196,924 1276,1250 1280,1340 1262,1260" fill="#ffffff" opacity="0.18"/>
</g>

<!-- ============ TEXT ============ -->
<text class="t" x="69" y="677" font-size="54">Four locks, four hooks design</text>
<text class="t" x="47" y="1481" font-size="72">Tilt 5~-25°</text>
</svg>
</body>
</html>
